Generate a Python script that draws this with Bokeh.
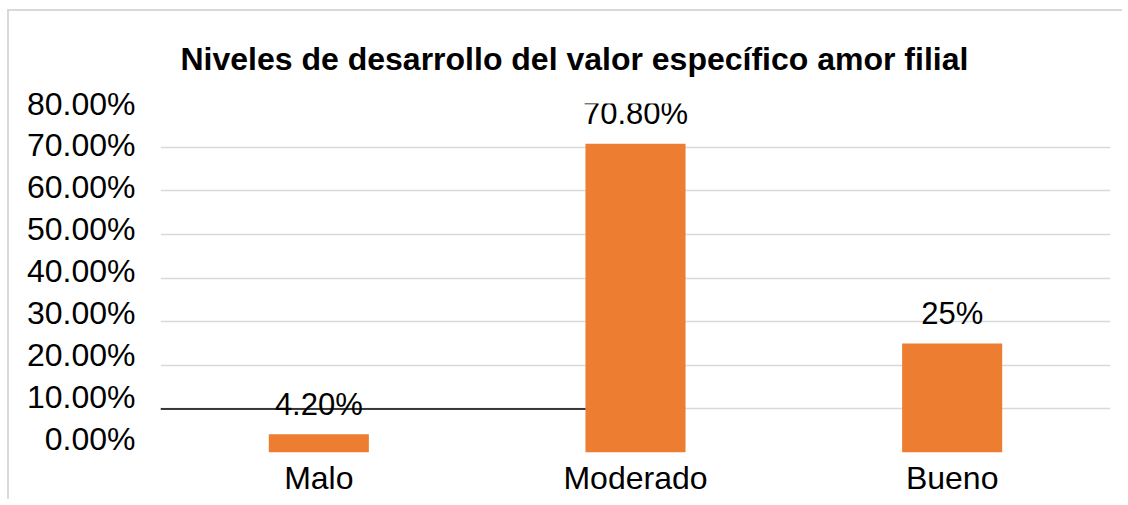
from bokeh.plotting import figure
from bokeh.models import ColumnDataSource, FixedTicker, Title, LinearAxis, Range1d
from bokeh.embed import file_html
from bokeh.resources import INLINE
from bokeh.core.properties import value

# ---- data ----
title_text = "Niveles de desarrollo del valor específico amor filial"
categories = ["Malo", "Moderado", "Bueno"]
values = [4.2, 70.8, 25.0]
value_labels = ["4.20%", "70.80%", "25%"]
y_ticks = [0, 10, 20, 30, 40, 50, 60, 70, 80]
y_tick_labels = ["0.00%", "10.00%", "20.00%", "30.00%", "40.00%",
                 "50.00%", "60.00%", "70.00%", "80.00%"]
ref_line_value = 10

FONT = "Liberation Sans"
ORANGE = "#ED7D31"
GRID = "#d9d9d9"

xs = list(range(len(categories)))
src = ColumnDataSource(dict(x=xs, top=values, label=value_labels, cat=categories))

p = figure(width=1115, height=490, x_range=(-0.5, len(categories) - 0.5),
           y_range=(0, 80), output_backend="svg", toolbar_location=None,
           min_border_left=151, min_border_right=14, min_border_bottom=49,
           min_border_top=92)
p.styles = {"margin-left": "7px", "margin-top": "9px",
            "border-left": "2px solid #d9d9d9", "border-top": "2px solid #d9d9d9"}

p.title = Title(text=title_text, text_font=FONT, text_font_size="32px",
                text_font_style="bold", text_color="black",
                align="left", offset=20, standoff=53)

p.outline_line_color = None
p.background_fill_color = "white"
p.border_fill_color = "white"

# grid
p.xgrid.grid_line_color = None
p.ygrid.grid_line_color = GRID
p.ygrid.grid_line_width = 1.5
p.yaxis.ticker = FixedTicker(ticks=y_ticks)
p.ygrid.ticker = FixedTicker(ticks=y_ticks)

# main y axis hidden (labels drawn by the label axis below)
p.yaxis.visible = False

# label axis: tick labels as placed in the reference
p.extra_y_ranges = {"lab": Range1d(-3.34, 80)}
lab_axis = LinearAxis(y_range_name="lab", ticker=FixedTicker(ticks=y_ticks))
lab_axis.major_label_overrides = {t: l for t, l in zip(y_ticks, y_tick_labels)}
p.add_layout(lab_axis, "left")

for ax in (p.xaxis[0], lab_axis):
    ax.axis_line_color = None
    ax.major_tick_line_color = None
    ax.minor_tick_line_color = None
    ax.major_label_text_font = FONT
    ax.major_label_text_font_size = "32px"
    ax.major_label_text_color = "black"
lab_axis.major_label_standoff = 19
p.xaxis.ticker = FixedTicker(ticks=xs)
p.xaxis.major_label_overrides = {x: c for x, c in zip(xs, categories)}
p.xaxis.major_label_standoff = 1

# bars
bar_w = 0.316
p.vbar(x="x", top="top", bottom=0, width=bar_w, source=src,
       fill_color=ORANGE, line_color=None)

# data labels
p.text(x="x", y="top", text="label", source=src, text_font=value(FONT),
       text_font_size="31px", text_align="center", text_baseline="alphabetic",
       y_offset=-30, text_color="black")

# black reference line (from plot left edge to left edge of 2nd bar)
p.segment(x0=[-0.5], y0=[ref_line_value], x1=[xs[1] - bar_w / 2],
          y1=[ref_line_value], line_color="black", line_width=1.5)

open("out.html", "w").write(file_html(p, INLINE))
